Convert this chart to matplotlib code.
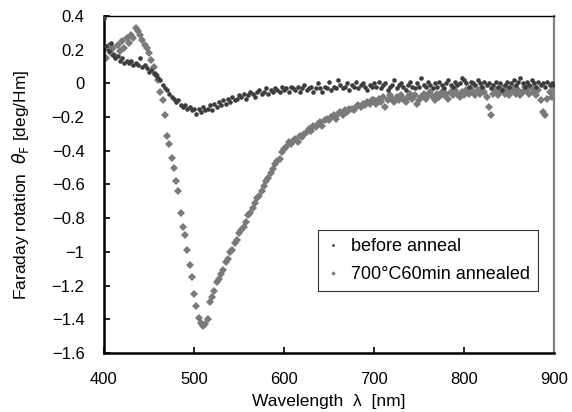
import numpy as np
import matplotlib
matplotlib.use("Agg")
import matplotlib.pyplot as plt

plt.rcParams['font.family'] = ['Liberation Sans', 'DejaVu Sans']

wavelength = np.arange(400, 900.1, 2.5)

before_anneal = [
    0.39, 0.22, 0.19, 0.24, 0.17, 0.15, 0.16, 0.13, 0.15, 0.12,
    0.13, 0.12, 0.13, 0.11, 0.12, 0.11, 0.15, 0.10, 0.11, 0.09,
    0.07, 0.08, 0.06, 0.05, 0.03, 0.02, -0.01, -0.03, -0.04, -0.06,
    -0.08, -0.09, -0.11, -0.10, -0.13, -0.14, -0.13, -0.15, -0.14, -0.16,
    -0.15, -0.18, -0.15, -0.17, -0.14, -0.16, -0.15, -0.13, -0.16, -0.12,
    -0.14, -0.11, -0.13, -0.10, -0.12, -0.09, -0.11, -0.08, -0.10, -0.09,
    -0.07, -0.08, -0.06, -0.09, -0.07, -0.05, -0.06, -0.08, -0.05, -0.04,
    -0.06, -0.05, -0.03, -0.06, -0.04, -0.05, -0.03, -0.04, -0.05, -0.02,
    -0.04, -0.03, -0.05, -0.02, -0.03, -0.04, -0.02, -0.05, -0.03, -0.01,
    -0.04, -0.03, -0.02, -0.05, -0.03, 0.00, -0.03, -0.05, -0.02, -0.03,
    0.01, -0.04, -0.02, -0.03, 0.02, -0.01, -0.03, -0.02, 0.00, -0.04,
    -0.01, -0.02, 0.01, -0.03, -0.01, 0.00, -0.02, -0.04, -0.01, -0.02,
    0.00,
    -0.02, 0.01, -0.03, -0.01, 0.00, -0.04, -0.02, -0.01, 0.02, -0.03,
    -0.01, 0.00, -0.02, -0.04, -0.01, 0.01, -0.02, -0.03, 0.00, -0.02,
    0.03, -0.01, -0.02, 0.01, -0.01, -0.03, 0.00, -0.02, 0.01, -0.01,
    -0.03, 0.00, 0.02, -0.01, -0.02, 0.01, -0.01, 0.00, 0.03, 0.02,
    0.00, -0.02, 0.01, 0.00, -0.01, 0.02, 0.00, -0.02, 0.01, -0.01,
    0.00, -0.03, -0.01, 0.01, -0.02, 0.00, -0.04, -0.01, 0.01, -0.02,
    0.00, 0.02, -0.01, 0.01, 0.03, 0.00, -0.02, 0.01, -0.01, 0.02,
    0.00, -0.02, 0.01, -0.01, 0.00, -0.02, 0.01, -0.01, 0.00, -0.01,
]

annealed = [
    0.20, 0.15, 0.22, 0.18, 0.21, 0.16, 0.23, 0.19, 0.25, 0.21,
    0.27, 0.24, 0.29, 0.27, 0.33, 0.31, 0.29, 0.26, 0.23, 0.21,
    0.18, 0.14, 0.10, 0.05, 0.02, -0.05, -0.10, -0.19, -0.31, -0.36,
    -0.44, -0.50, -0.58, -0.64, -0.77, -0.85, -0.90, -0.99, -1.08, -1.15,
    -1.25, -1.32, -1.39, -1.42, -1.44, -1.43, -1.40, -1.30, -1.27, -1.23,
    -1.18, -1.16, -1.13, -1.11, -1.06, -1.04, -1.00, -0.99, -0.95, -0.93,
    -0.89, -0.87, -0.85, -0.82, -0.78, -0.77, -0.74, -0.71, -0.68, -0.67,
    -0.64, -0.61, -0.58, -0.56, -0.53, -0.51, -0.48, -0.46, -0.45, -0.41,
    -0.39, -0.38, -0.35, -0.36, -0.34, -0.33, -0.35, -0.31, -0.32, -0.30,
    -0.29, -0.27, -0.28, -0.25, -0.26, -0.24, -0.23, -0.25, -0.22, -0.21,
    -0.22, -0.20, -0.19, -0.21, -0.18, -0.17, -0.19, -0.16, -0.17, -0.15,
    -0.15, -0.16, -0.14, -0.13, -0.14, -0.12, -0.13, -0.11, -0.12, -0.10,
    -0.10,
    -0.12, -0.09, -0.11, -0.08, -0.14, -0.10, -0.07, -0.09, -0.11, -0.08,
    -0.10, -0.07, -0.09, -0.11, -0.08, -0.06, -0.09, -0.07, -0.12, -0.10,
    -0.08, -0.06, -0.09, -0.07, -0.05, -0.08, -0.10, -0.06, -0.08, -0.05,
    -0.07, -0.06, -0.09, -0.05, -0.07, -0.04, -0.06, -0.08, -0.05, -0.07,
    -0.04, -0.06, -0.03, -0.05, -0.07, -0.04, -0.06, -0.03, -0.05, -0.08,
    -0.14, -0.19, -0.06, -0.04, -0.07, -0.05, -0.03, -0.06, -0.04, -0.07,
    -0.05, -0.03, -0.06, -0.04, -0.07, -0.05, -0.02, -0.04, -0.06, -0.03,
    -0.05, -0.07, -0.04, -0.10, -0.17, -0.19, -0.09, -0.05, -0.08, -0.03,
]

series_labels = ["before anneal", "700\u00b0C60min annealed"]
x_ticks = [400, 500, 600, 700, 800, 900]
y_ticks = [0.4, 0.2, 0, -0.2, -0.4, -0.6, -0.8, -1, -1.2, -1.4, -1.6]
y_tick_labels = ["0.4", "0.2", "0", "\u22120.2", "\u22120.4", "\u22120.6", "\u22120.8",
                 "\u22121", "\u22121.2", "\u22121.4", "\u22121.6"]

fig = plt.figure(figsize=(5.72, 4.12), dpi=100)
ax = fig.add_axes([104/572, 1-353/412, 450/572, 337/412])

ax.plot(wavelength, before_anneal, linestyle='none', marker='o', markersize=3.3,
        color='#3c3c3c', markeredgewidth=0, label=series_labels[0], zorder=3)
ax.plot(wavelength, annealed, linestyle='none', marker='D', markersize=3.8,
        color='#7a7a7a', markeredgewidth=0, label=series_labels[1], zorder=2)

ax.set_xlim(400, 900)
ax.set_ylim(-1.6, 0.4)
ax.set_xticks(x_ticks)
ax.set_xticklabels([str(t) for t in x_ticks])
ax.set_yticks(y_ticks)
ax.set_yticklabels(y_tick_labels)
ax.tick_params(axis='both', direction='in', length=4, width=1.2, labelsize=12, colors='black')
ax.tick_params(axis='x', pad=14)
ax.tick_params(axis='y', pad=14)

for s in ['left', 'bottom']:
    ax.spines[s].set_linewidth(1.8)
    ax.spines[s].set_color('black')
ax.spines['top'].set_linewidth(1.0)
ax.spines['top'].set_color('black')
ax.spines['right'].set_linewidth(1.6)
ax.spines['right'].set_color('#808080')

ax.set_ylabel("Faraday rotation  $\\theta_{\\rm F}$ [deg/Hm]", fontsize=12.5, labelpad=15)
ax.set_xlabel("Wavelength  \u03bb  [nm]", fontsize=12.5, labelpad=5)

leg = ax.legend(loc='upper left', bbox_to_anchor=(0.455, 0.392), frameon=True,
                fancybox=False, edgecolor='black', fontsize=13, markerscale=0.6,
                handlelength=0.8, handletextpad=0.6, borderpad=0.45, labelspacing=0.6)
leg.get_frame().set_linewidth(0.8)

fig.savefig("out.png", dpi=100)
